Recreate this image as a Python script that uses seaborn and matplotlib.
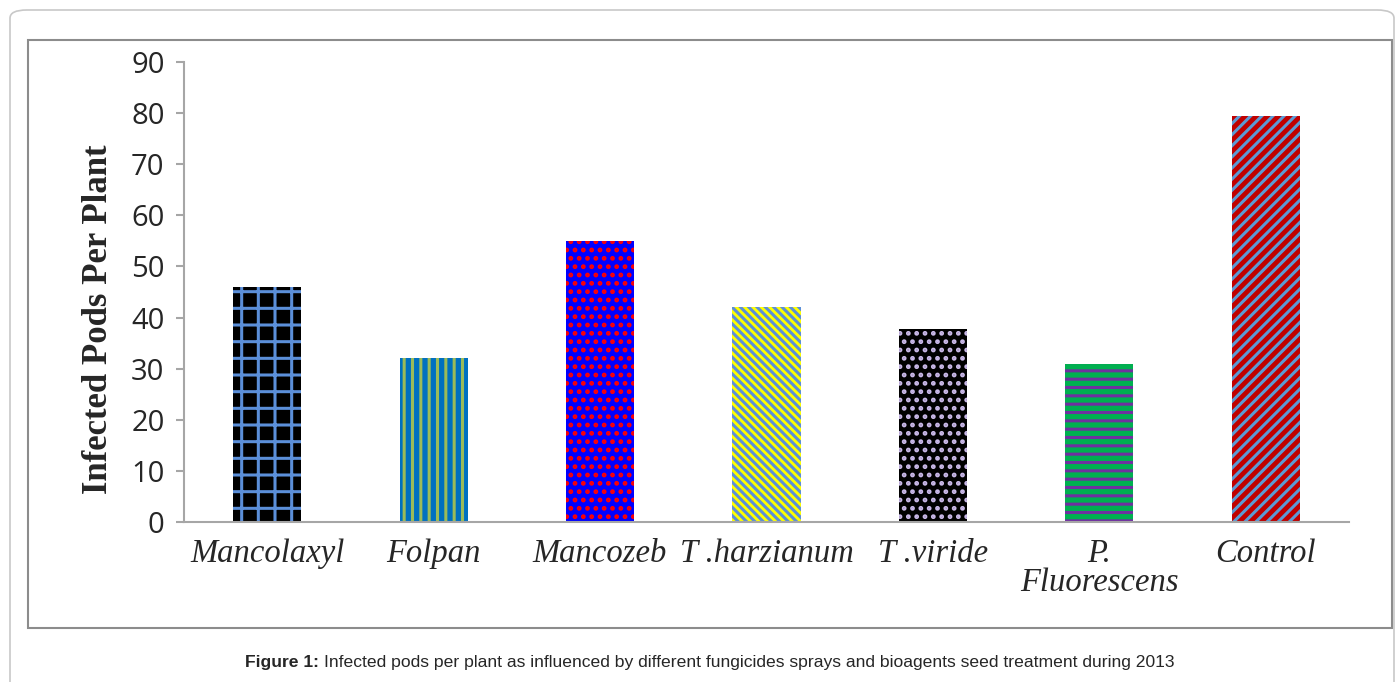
import matplotlib
matplotlib.use("Agg")
import matplotlib.pyplot as plt
import pandas as pd
import seaborn as sns
from matplotlib.patches import FancyBboxPatch, Rectangle

# Data
treatments = ["Mancolaxyl", "Folpan", "Mancozeb", "T .harzianum", "T .viride",
              "P.\nFluorescens", "Control"]
infected_pods = [46, 32, 55, 42, 37.7, 31, 79.5]

face_colors = ["#000000", "#0070C0", "#0000FF", "#FFFF00", "#000000", "#00B050", "#C00000"]
hatch_colors = ["#5B8FD9", "#9BBB59", "#FF0000", "#5B8FD9", "#C9B8E8", "#7030A0", "#5B9BD5"]
hatches = ["+", "||", "..", "\\\\\\\\", "..", "--", "///"]

df = pd.DataFrame({"treatment": treatments, "pods": infected_pods})

sns.set_style("white")
plt.rcParams["hatch.linewidth"] = 2.2

fig = plt.figure(figsize=(13.97, 6.82), dpi=100)
ax = fig.add_axes([184 / 1397, 1 - 522 / 682, 1165 / 1397, 460 / 682])

sns.barplot(data=df, x="treatment", y="pods", ax=ax, width=0.41, color="black")

for bar, fc, hc, h in zip(ax.patches, face_colors, hatch_colors, hatches):
    bar.set_facecolor(fc)
    bar.set_edgecolor(hc)
    bar.set_hatch(h)
    bar.set_linewidth(0)

ax.set_ylim(0, 90)
ax.set_xlim(-0.5, 6.5)
ax.set_yticks(range(0, 91, 10))
ax.set_yticklabels([str(v) for v in range(0, 91, 10)], fontsize=21, family="Open Sans")

# category labels on minor ticks, boundary tick marks on major ticks
ax.set_xticks([i - 0.5 for i in range(8)])
ax.set_xticklabels([])
ax.set_xticks(range(7), minor=True)
ax.set_xticklabels(treatments, minor=True, fontsize=23.5, family="Liberation Serif",
                   style="italic", linespacing=0.95)
ax.tick_params(axis="x", which="major", length=7, width=1.5, color="#A6A6A6", direction="out")
ax.tick_params(axis="x", which="minor", length=0, pad=12)
ax.tick_params(axis="y", length=6, width=1.5, color="#A6A6A6", direction="out", left=True, pad=8)

ax.set_xlabel("")
ax.set_ylabel("Infected Pods Per Plant", fontsize=25, family="Liberation Serif",
              fontweight="bold")
ax.yaxis.set_label_coords(-0.059, 0.441)

for side in ["top", "right"]:
    ax.spines[side].set_visible(False)
for side in ["left", "bottom"]:
    ax.spines[side].set_color("#A6A6A6")
    ax.spines[side].set_linewidth(1.5)

# outer rounded panel and inner chart frame
fig.patches.append(FancyBboxPatch((10 / 1397, -0.05), 1384 / 1397, 1.05 - 10 / 682,
                                  boxstyle="round,pad=0,rounding_size=0.012",
                                  transform=fig.transFigure, fill=False,
                                  edgecolor="#C8C8C8", linewidth=1.2, zorder=-1))
fig.patches.append(Rectangle((28 / 1397, 1 - 628 / 682), 1364 / 1397, 588 / 682,
                             transform=fig.transFigure, fill=False,
                             edgecolor="#8C8C8C", linewidth=1.5, zorder=-1))

cap_y = 1 - 662 / 682
bold = fig.text(245 / 1397, cap_y, "Figure 1:", fontsize=12.6, fontweight="bold",
                family="Liberation Sans", va="center", ha="left")
fig.canvas.draw()
bb = bold.get_window_extent()
fig.text((bb.x1 + 5) / 1397, cap_y,
         "Infected pods per plant as influenced by different fungicides sprays and bioagents seed treatment during 2013",
         fontsize=12.6, family="Liberation Sans", va="center", ha="left")

fig.savefig("out.png", dpi=100)
